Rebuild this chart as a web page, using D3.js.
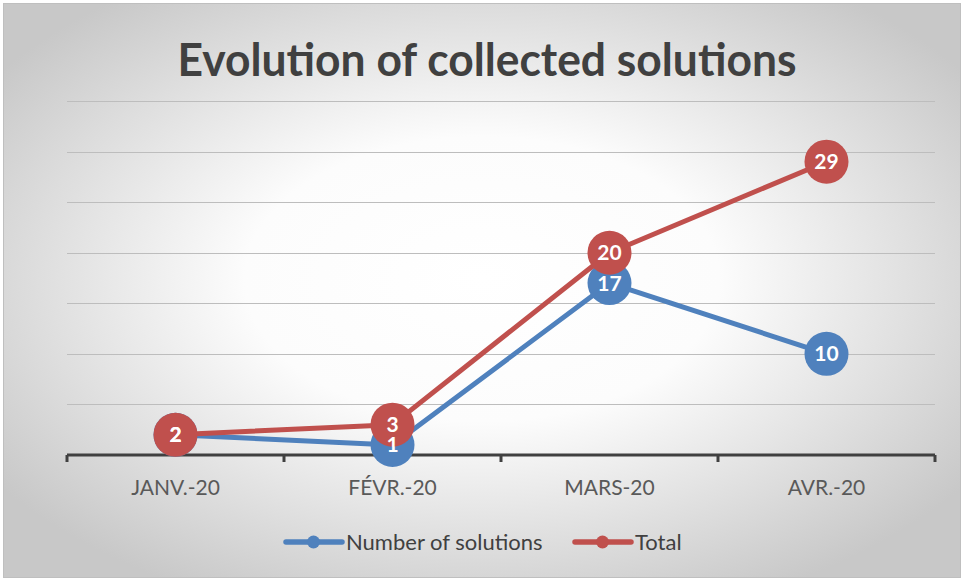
<!DOCTYPE html>
<html>
<head>
<meta charset="utf-8">
<script src="https://cdn.jsdelivr.net/npm/d3@7"></script>
<style>
  body { margin: 0; background: #fff; }
  svg { display: block; }
  text { font-family: Lato, "Open Sans", sans-serif; }
</style>
</head>
<body>
<script>
const width = 964;
const height = 581;

const months = ["JANV.-20", "FÉVR.-20", "MARS-20", "AVR.-20"];
const numberOfSolutions = [2, 1, 17, 10];
const totalSolutions = [2, 3, 20, 29];
const yTicks = [0, 5, 10, 15, 20, 25, 30, 35];

const series = [
    { name: "Number of solutions", values: numberOfSolutions, color: "#4F81BD" },
    { name: "Total", values: totalSolutions, color: "#C0504D" }
];

const svg = d3.select("body")
    .append("svg")
    .attr("width", width)
    .attr("height", height);

// background gradient
const defs = svg.append("defs");
const grad = defs.append("radialGradient")
    .attr("id", "bg")
    .attr("cx", "50%").attr("cy", "48%").attr("r", "62%");
grad.append("stop").attr("offset", "0%").attr("stop-color", "#ffffff");
grad.append("stop").attr("offset", "40%").attr("stop-color", "#fcfcfc");
grad.append("stop").attr("offset", "100%").attr("stop-color", "#c8c8c8");

svg.append("rect")
    .attr("x", 3.5).attr("y", 3.5)
    .attr("width", 957).attr("height", 574)
    .attr("fill", "url(#bg)")
    .attr("stroke", "#bfbfbf")
    .attr("stroke-width", 1);

const x = d3.scaleBand()
    .domain(months)
    .range([67, 935]);

const y = d3.scaleLinear()
    .domain([0, 35])
    .range([455, 101]);

// title
svg.append("text")
    .attr("x", 487)
    .attr("y", 76)
    .attr("text-anchor", "middle")
    .attr("font-size", 45)
    .attr("font-weight", "bold")
    .attr("fill", "#404040")
    .attr("textLength", 619)
    .attr("lengthAdjust", "spacingAndGlyphs")
    .text("Evolution of collected solutions");

// gridlines
svg.append("g")
    .selectAll("line")
    .data(yTicks.filter(d => d > 0))
    .enter()
    .append("line")
    .attr("x1", x.range()[0])
    .attr("x2", x.range()[1])
    .attr("y1", d => Math.round(y(d)) + 0.5)
    .attr("y2", d => Math.round(y(d)) + 0.5)
    .attr("stroke", "#bdbdbd")
    .attr("stroke-width", 1.2);

// x axis
const axis = svg.append("g");
axis.append("line")
    .attr("x1", x.range()[0])
    .attr("x2", x.range()[1])
    .attr("y1", y(0))
    .attr("y2", y(0))
    .attr("stroke", "#404040")
    .attr("stroke-width", 3);

const tickPos = months.map(m => x(m)).concat([x.range()[1]]);
axis.selectAll(".tick")
    .data(tickPos)
    .enter()
    .append("line")
    .attr("x1", d => d)
    .attr("x2", d => d)
    .attr("y1", y(0))
    .attr("y2", y(0) + 7)
    .attr("stroke", "#404040")
    .attr("stroke-width", 3);

axis.selectAll(".cat")
    .data(months)
    .enter()
    .append("text")
    .attr("x", d => x(d) + x.bandwidth() / 2)
    .attr("y", 495)
    .attr("text-anchor", "middle")
    .attr("font-size", 21)
    .attr("fill", "#595959")
    .text(d => d);

const line = d3.line()
    .x((d, i) => x(months[i]) + x.bandwidth() / 2)
    .y(d => y(d));

// lines and markers
series.forEach(s => {
    svg.append("path")
        .datum(s.values)
        .attr("d", line)
        .attr("fill", "none")
        .attr("stroke", s.color)
        .attr("stroke-width", 5)
        .attr("stroke-linejoin", "round")
        .attr("stroke-linecap", "round");

    svg.append("g")
        .selectAll("circle")
        .data(s.values)
        .enter()
        .append("circle")
        .attr("cx", (d, i) => x(months[i]) + x.bandwidth() / 2)
        .attr("cy", d => y(d))
        .attr("r", 22)
        .attr("fill", s.color);
});

// data labels
series.forEach(s => {
    svg.append("g")
        .selectAll("text")
        .data(s.values)
        .enter()
        .append("text")
        .attr("x", (d, i) => x(months[i]) + x.bandwidth() / 2)
        .attr("y", d => y(d) + 7.5)
        .attr("text-anchor", "middle")
        .attr("font-size", 21)
        .attr("font-weight", "bold")
        .attr("fill", "#ffffff")
        .text(d => d);
});

// legend
const legendItems = [
    { s: series[0], x0: 286, tx: 346 },
    { s: series[1], x0: 575, tx: 635 }
];
const legend = svg.append("g");
legendItems.forEach(item => {
    legend.append("line")
        .attr("x1", item.x0)
        .attr("x2", item.x0 + 56)
        .attr("y1", 542)
        .attr("y2", 542)
        .attr("stroke", item.s.color)
        .attr("stroke-width", 5.5)
        .attr("stroke-linecap", "round");
    legend.append("circle")
        .attr("cx", item.x0 + 27.5)
        .attr("cy", 542)
        .attr("r", 6.5)
        .attr("fill", item.s.color);
    legend.append("text")
        .attr("x", item.tx)
        .attr("y", 549.5)
        .attr("font-size", 22)
        .attr("fill", "#404040")
        .text(item.s.name);
});
</script>
</body>
</html>
